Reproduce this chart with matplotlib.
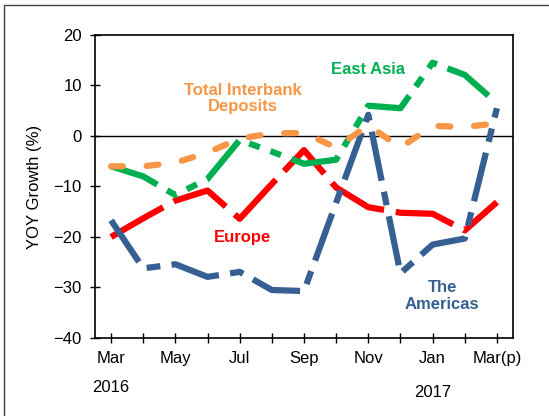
import matplotlib.pyplot as plt
from matplotlib.patches import Rectangle

plt.rcParams['font.family'] = ['Liberation Sans', 'DejaVu Sans']

# data (YOY growth, %)
months = ['Mar', 'Apr', 'May', 'Jun', 'Jul', 'Aug', 'Sep',
          'Oct', 'Nov', 'Dec', 'Jan', 'Feb', 'Mar(p)']
east_asia = [-6, -8, -11.7, -8.5, -0.8, -3.1, -5.5, -4.7, 6.0, 5.5, 14.5, 12.1, 6.5]
interbank = [-6, -6, -5.3, -3.3, -0.5, 0.5, 0.6, -2.3, 2.1, -2.3, 2.0, 1.8, 2.5]
europe = [-20, -16.3, -12.8, -10.8, -16.4, -9.5, -2.8, -10.2, -14.1, -15.2, -15.4, -18.7, -13.1]
americas = [-16.7, -26.2, -25.4, -27.9, -26.9, -30.5, -30.7, -13.2, 4.2, -27.2, -21.5, -20.3, 5.5]
years = ['2016', '2017']

x = list(range(len(months)))

fig = plt.figure(figsize=(5.49, 4.16), dpi=100)
ax = fig.add_axes([0.173, 0.1875, 0.7614, 0.7284])

lw = 4.5
ax.plot(x, europe, color='#FF0000', lw=lw, dashes=(9.6, 1.9), zorder=3)
ax.plot(x, east_asia, color='#00B050', lw=lw,
        dashes=(8, 1.8, 1.8, 1.8, 1.8, 1.8), zorder=4)
ax.plot(x, americas, color='#376092', lw=lw, dashes=(8, 1.8, 2.2, 1.8), zorder=5)
ax.plot(x, interbank, color='#F79646', lw=lw, dashes=(1.9, 3.8),
        dash_capstyle='round', zorder=6)

ax.axhline(0, color='black', lw=1, zorder=2)

# series labels
ax.text(8.0, 13.1, 'East Asia', color='#00B050', fontsize=12, fontweight='bold',
        ha='center', va='center')
ax.text(4.1, 7.5, 'Total Interbank\nDeposits', color='#F79646', fontsize=12,
        fontweight='bold', ha='center', va='center', linespacing=1.1)
ax.text(4.1, -20.1, 'Europe', color='#FF0000', fontsize=12, fontweight='bold',
        ha='center', va='center')
ax.text(10.3, -31.7, 'The\nAmericas', color='#376092', fontsize=12,
        fontweight='bold', ha='center', va='center', linespacing=1.1)

ax.set_xlim(-0.5, 12.5)
ax.set_ylim(-40, 20)
ax.set_yticks(range(-40, 21, 10))
ax.set_xticks(x)
ax.set_xticklabels([m if i % 2 == 0 else '' for i, m in enumerate(months)])
ax.tick_params(direction='inout', length=7, width=1, labelsize=12, pad=6)
ax.set_ylabel('YOY Growth (%)', fontsize=12, labelpad=8)

# year labels under the month ticks
tr = ax.get_xaxis_transform()
ax.text(0, -0.165, years[0], transform=tr, ha='center', va='center', fontsize=12)
ax.text(10, -0.18, years[1], transform=tr, ha='center', va='center', fontsize=12)

for s in ax.spines.values():
    s.set_linewidth(1.2)

# outer frame around the chart area
fig.patches.append(Rectangle((4 / 549, -0.1), 1.2, 1 - 5 / 416 + 0.1,
                             transform=fig.transFigure, fill=False,
                             edgecolor='#404040', lw=1))

fig.savefig('out.png', dpi=100)
